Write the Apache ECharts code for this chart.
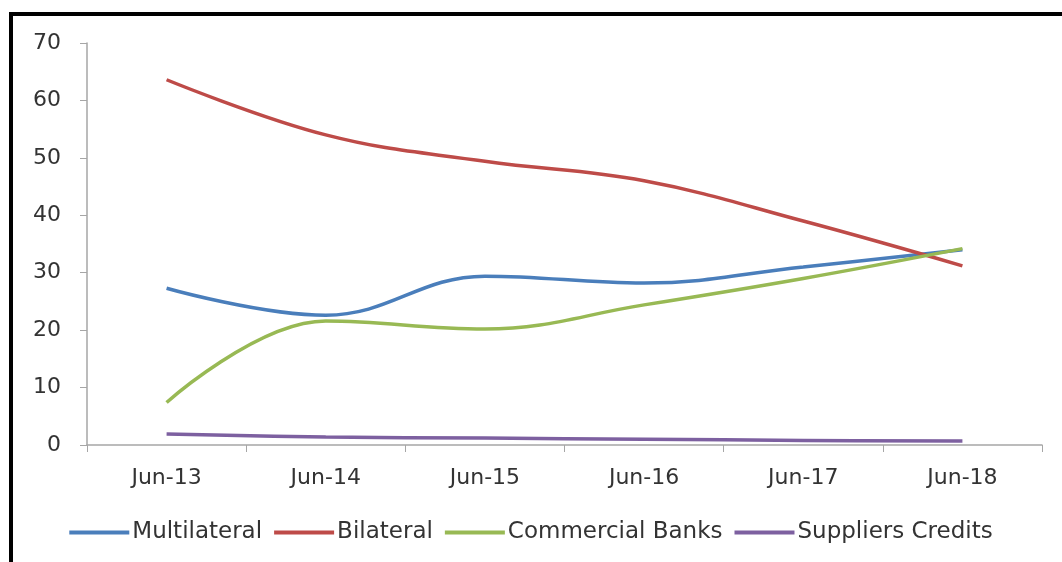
<!DOCTYPE html>
<html>
<head>
<meta charset="utf-8">
<script src="https://cdn.jsdelivr.net/npm/echarts@6/dist/echarts.min.js"></script>
<style>
  html, body { margin: 0; padding: 0; background: #fff; }
  #chart { width: 1062px; height: 562px; }
  #frame {
    position: absolute; left: 9px; top: 12px; width: 1100px; height: 600px;
    border-left: 4px solid #000; border-top: 4px solid #000; pointer-events: none;
  }
</style>
</head>
<body>
<div id="chart"></div>
<div id="frame"></div>
<script>
const categories = ['Jun-13', 'Jun-14', 'Jun-15', 'Jun-16', 'Jun-17', 'Jun-18'];
const multilateral = [27.3, 22.6, 29.4, 28.2, 31.0, 34.0];
const bilateral = [63.6, 54.0, 49.4, 46.0, 39.0, 31.2];
const commercialBanks = [7.4, 21.6, 20.2, 24.4, 29.0, 34.2];
const suppliersCredits = [1.9, 1.4, 1.2, 1.0, 0.8, 0.7];

const myChart = echarts.init(document.getElementById('chart'));

const font = 'DejaVu Sans';
const textColor = '#333';
function line(name, data, color) {
  return {
    name: name,
    type: 'line',
    data: data,
    smooth: 0.4,
    showSymbol: false,
    symbol: 'none',
    lineStyle: { width: 3.5, color: color },
    itemStyle: { color: color }
  };
}

const option = {
  animation: false,
  grid: { left: 87, right: 20, top: 43, bottom: 117 },
  legend: {
    bottom: 13,
    left: 'center',
    icon: 'rect',
    itemWidth: 60,
    itemHeight: 4,
    itemGap: 12,
    textStyle: { fontFamily: font, fontSize: 23, color: textColor, padding: [0, 0, 0, -2] },
    data: ['Multilateral', 'Bilateral', 'Commercial Banks', 'Suppliers Credits']
  },
  xAxis: {
    type: 'category',
    data: categories,
    boundaryGap: true,
    axisLine: { lineStyle: { color: '#a6a6a6', width: 1.5 } },
    axisTick: { show: true, length: 7, lineStyle: { color: '#a6a6a6' } },
    axisLabel: { fontFamily: font, fontSize: 22, color: textColor, margin: 22 }
  },
  yAxis: {
    type: 'value',
    min: 0,
    max: 70,
    interval: 10,
    splitLine: { show: false },
    axisLine: { show: true, lineStyle: { color: '#a6a6a6', width: 1.5 } },
    axisTick: { show: true, length: 7, lineStyle: { color: '#a6a6a6' } },
    axisLabel: { fontFamily: font, fontSize: 22, color: textColor, margin: 26 }
  },
  series: [
    line('Multilateral', multilateral, '#4a7ebb'),
    line('Bilateral', bilateral, '#be4b48'),
    line('Commercial Banks', commercialBanks, '#98b954'),
    line('Suppliers Credits', suppliersCredits, '#7d60a0')
  ]
};
myChart.setOption(option);
</script>
</body>
</html>
